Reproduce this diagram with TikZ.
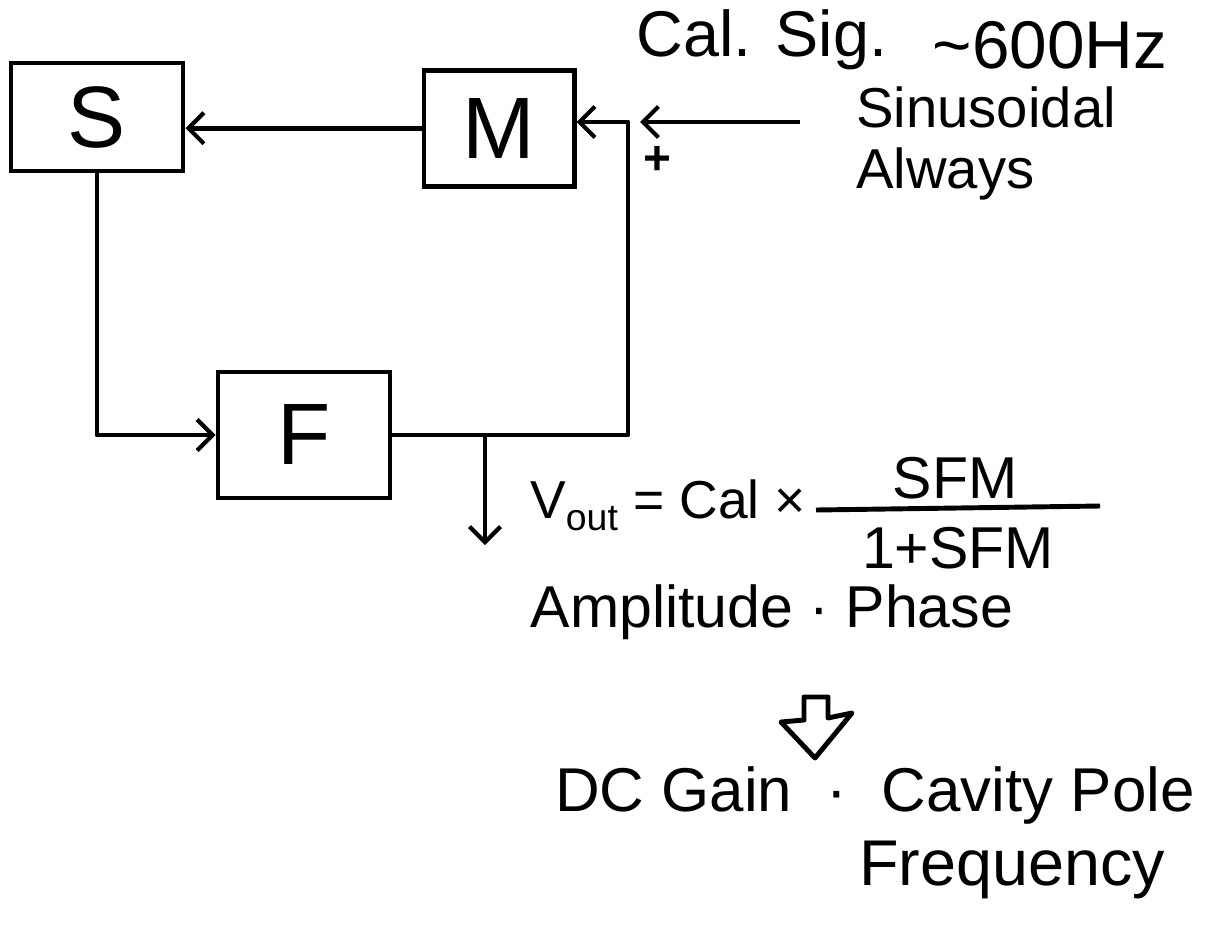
\documentclass[tikz,border=0pt]{standalone}
\usepackage{fontspec}
\setmainfont{Liberation Sans}
\usetikzlibrary{arrows.meta, positioning, calc}

\begin{document}
\begin{tikzpicture}[
    x=0.025cm, y=-0.025cm,
    blk/.style={draw, line width=3.5pt, minimum width=4.3cm, minimum height=2.7cm,
                font=\fontsize{62}{62}\selectfont},
    wire/.style={line width=3.5pt, line join=round},
    sig/.style={wire, -{Straight Barb[length=11pt,width=22pt,line width=3pt]}},
    note/.style={font=\fontsize{42}{54}\selectfont, inner sep=0pt},
    small/.style={font=\fontsize{40}{44}\selectfont, inner sep=0pt, align=left}
]
    \useasboundingbox (0,0) rectangle (1216,928);

    % loop blocks
    \node[blk] (S) at (97,117) {S};
    \node[blk, minimum width=3.75cm, minimum height=2.9cm, right=5.9cm of S, yshift=-0.28cm] (M) {M};
    \node[blk, minimum height=3.15cm] (F) at (304,435) {F};

    \coordinate (sum) at (628,122);
    \coordinate (calin) at (800,122);
    \coordinate (tap) at (485,435);
    \coordinate (vout) at (485,545);

    % loop wiring
    \draw[sig] (M.west) -- (M.west -| S.east);
    \draw[sig] (S.south) |- (F.west);
    \draw[sig] (F.east) -| (sum) -- (sum -| M.east);
    \draw[sig, shorten >=0.3cm] (calin) -- (sum);
    \draw[sig] (tap) -- (vout);
    \node[font=\fontsize{34}{34}\selectfont\bfseries] (plus) at (657,160) {+};

    % calibration line
    \node[note, font=\fontsize{46}{54}\selectfont] (cal) at (762,40) {Cal. Sig.};
    \node[note, font=\fontsize{48}{54}\selectfont] (freq) at (1050,45) {\textasciitilde600Hz};
    \node[small, anchor=north west] (sine) at (856,86) {Sinusoidal\\Always};

    % response
    \node[note, font=\fontsize{38}{54}\selectfont, anchor=west] (vlhs) at (530,505) {V\textsubscript{out} = Cal ×};
    \node[note] (num) at (955,478) {SFM};
    \node[note] (den) at (958,548) {1+SFM};
    \draw[wire] (816,510) -- (1100,506);
    \node[note] (amp) at (772,612) {Amplitude · Phase};

    \draw[wire] (804,697) -- (828,697) -- (828,718) -- (852,713) -- (815,758)
        -- (781,722) -- (804,720) -- cycle;

    \node[note, font=\fontsize{44}{54}\selectfont] (dc) at (875,795) {DC Gain \ · \ Cavity Pole};
    \node[note, font=\fontsize{46}{54}\selectfont] (fq) at (1012,870) {Frequency};
\end{tikzpicture}
\end{document}
